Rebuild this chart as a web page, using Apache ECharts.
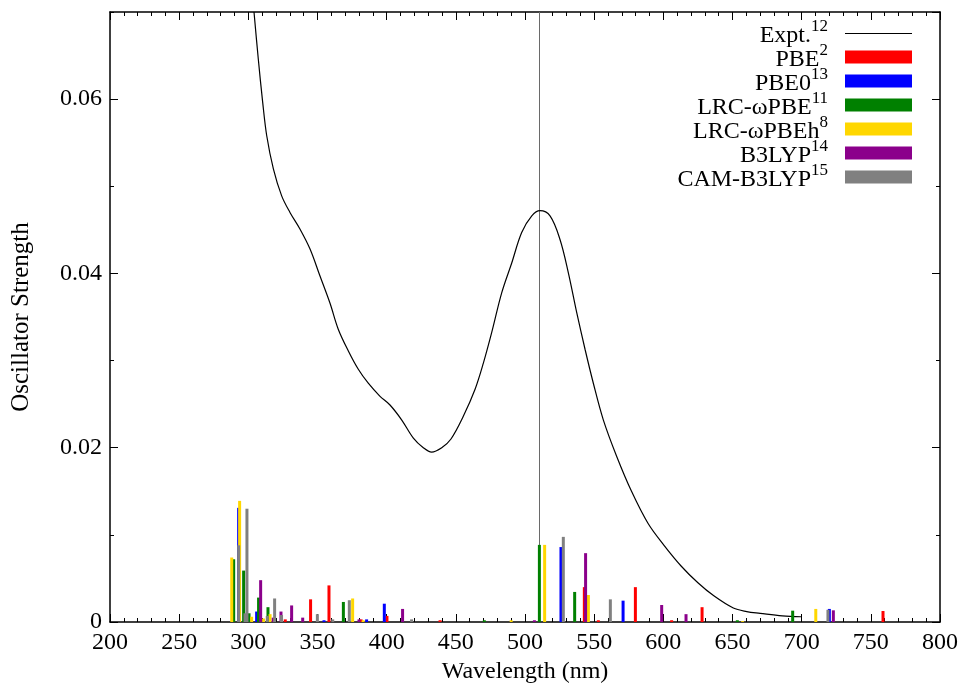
<!DOCTYPE html>
<html>
<head>
<meta charset="utf-8">
<script src="https://cdn.jsdelivr.net/npm/echarts@6/dist/echarts.min.js"></script>
<style>html,body{margin:0;padding:0;background:#fff}#c{width:959px;height:683px}</style>
</head>
<body>
<div id="c"></div>
<script>
// Experimental spectrum (wavelength nm, oscillator strength)
var exptWl = [304.1, 307.2, 310.4, 313.3, 318.1, 324.1, 330.1, 337.3, 344.6, 351.8, 359, 365, 372.3, 379.5, 386.7, 395.2, 402.4, 410.8, 419.3, 426.5, 432.5, 439.8, 446.5, 455.4, 463.9, 469.9, 475.9, 483.2, 490.4, 497.6, 504.9, 510.8, 518.1, 525.3, 531.3, 537.4, 543.4, 549.4, 556.6, 566.3, 577, 589, 600.5, 613, 625, 636.5, 650.6, 660.3, 670, 686, 699.5];
var exptF  = [0.0700, 0.0646, 0.0596, 0.0558, 0.0520, 0.0489, 0.0470, 0.0451, 0.0428, 0.0397, 0.0366, 0.0336, 0.0311, 0.0290, 0.0274, 0.0259, 0.0249, 0.0232, 0.0211, 0.0200, 0.0195, 0.0200, 0.0210, 0.0236, 0.0267, 0.0297, 0.0332, 0.0378, 0.0412, 0.0447, 0.0466, 0.0472, 0.0466, 0.0439, 0.0401, 0.0355, 0.0313, 0.0274, 0.0232, 0.0190, 0.0150, 0.0113, 0.0088, 0.0064, 0.0045, 0.0030, 0.0016, 0.0012, 0.0010, 0.0007, 0.0006];
var exptMarker = 510;

// Computed stick spectra: [wavelength nm, oscillator strength]
var pbe = [[326.7,0.0003],[345,0.0026],[358.3,0.0042],[381.5,0.0003],[400.2,0.0007],[438.6,0.0002],[542.9,0.0040],[553,0.0002],[579.8,0.0040],[606,0.0002],[628,0.0017],[758.8,0.00126]];
var pbe0 = [[293,0.0131],[306,0.0012],[354.7,0.0002],[385.5,0.0003],[398.3,0.0021],[526,0.0086],[570.9,0.00245],[720,0.0015]];
var lrcwpbe = [[289.4,0.0072],[296.6,0.0059],[300.5,0.0010],[307.4,0.0028],[314.2,0.0017],[368.7,0.0023],[470.6,0.0002],[510.4,0.00885],[535.9,0.00345],[653.5,0.0002],[693.5,0.0013]];
var lrcwpbeh = [[288,0.0074],[293.7,0.0139],[302.4,0.0006],[311,0.0004],[315.7,0.0009],[375.4,0.0027],[383,0.0002],[490,0.0002],[514.2,0.00885],[545.8,0.0031],[657.3,0.0001],[710.2,0.0015]];
var b3lyp = [[308.9,0.0048],[318,0.0005],[323.6,0.0012],[331.3,0.0019],[339.3,0.0005],[380,0.0003],[411.5,0.0015],[506.8,0.0002],[543.8,0.0079],[598.8,0.00195],[616.4,0.0009],[722.9,0.00134]];
var camb3lyp = [[293,0.0088],[297.6,0.0010],[299,0.0130],[313.7,0.0007],[319,0.0027],[324,0.0008],[349.9,0.0009],[361,0.0003],[373,0.0025],[418,0.0003],[527.7,0.00977],[561.7,0.0026],[719,0.0014]];

var methodNames = ['PBE','PBE0','LRC-\u03c9PBE','LRC-\u03c9PBEh','B3LYP','CAM-B3LYP'];
var methodRefs  = ['2','13','11','8','14','15'];
var methodColors = ['#ff0000','#0000ff','#008000','#ffd700','#8b008b','#808080'];
var methodData = [pbe, pbe0, lrcwpbe, lrcwpbeh, b3lyp, camb3lyp];
var exptName = 'Expt.', exptRef = '12';

var FONT = 'Liberation Serif';
var chart = echarts.init(document.getElementById('c'), null, {renderer:'canvas'});

var refMap = {}; refMap[exptName] = exptRef;
methodNames.forEach(function(n,i){ refMap[n] = methodRefs[i]; });

var series = [];
series.push({
  name: exptName, type: 'line', xAxisIndex: 0, yAxisIndex: 0,
  data: exptWl.map(function(w,i){ return [w, exptF[i]]; }),
  showSymbol: false, symbol: 'none', smooth: 0.35, clip: true,
  lineStyle: {color: '#000', width: 1.2}, itemStyle: {color: '#000'}, z: 2,
  markLine: {
    silent: true, symbol: ['none','none'], label: {show: false}, z: 1,
    lineStyle: {color: '#6a6a6a', width: 1, type: 'solid'},
    data: [{xAxis: exptMarker}]
  }
});
methodNames.forEach(function(n,i){
  series.push({
    name: n, type: 'bar', xAxisIndex: 0, yAxisIndex: 0,
    data: methodData[i], barWidth: 3, barGap: '-100%',
    itemStyle: {color: methodColors[i]},
    emphasis: {disabled: true}, z: 5
  });
});

function yAxisDef(pos, interval, len, labels){
  return {
    type: 'value', position: pos, min: 0, max: 0.07, interval: interval,
    axisLine: {show: labels, onZero: false, lineStyle: {color: '#000', width: 1.5}},
    axisTick: {show: true, inside: true, length: len, lineStyle: {color: '#000', width: 1}},
    splitLine: {show: false},
    axisLabel: {show: labels, showMaxLabel: false, margin: 8, color: '#000', fontFamily: FONT, fontSize: 24,
      formatter: function(v){ return v === 0 ? '0' : v.toFixed(2); }},
    name: labels && pos === 'left' ? 'Oscillator Strength' : '',
    nameLocation: 'middle', nameGap: 76, nameRotate: 90,
    nameTextStyle: {color: '#000', fontFamily: FONT, fontSize: 25}
  };
}
function xAxisDef(pos, labels){
  return {
    type: 'value', position: pos, min: 200, max: 800, interval: 50,
    axisLine: {show: true, onZero: false, lineStyle: {color: '#000', width: 1.5}},
    axisTick: {show: true, inside: true, length: 8, lineStyle: {color: '#000', width: 1}},
    minorTick: {show: true, splitNumber: 5, length: 4, lineStyle: {color: '#000', width: 1}},
    splitLine: {show: false}, minorSplitLine: {show: false},
    axisLabel: {show: labels, margin: 9, color: '#000', fontFamily: FONT, fontSize: 24},
    name: labels ? 'Wavelength (nm)' : '',
    nameLocation: 'middle', nameGap: 33,
    nameTextStyle: {color: '#000', fontFamily: FONT, fontSize: 24}
  };
}

var lineIcon = 'path://M0,0 M0,6.4 L67,6.4 L67,7.6 L0,7.6 Z M67,13';
var legendData = [{name: exptName, icon: lineIcon}].concat(methodNames.map(function(n){ return {name: n, icon: 'rect'}; }));

chart.setOption({
  animation: false,
  backgroundColor: '#fff',
  grid: {left: 110, right: 19, top: 12, bottom: 61, show: false, containLabel: false, outerBoundsMode: 'none'},
  xAxis: [xAxisDef('bottom', true), xAxisDef('top', false)],
  yAxis: [yAxisDef('left', 0.02, 8, true), yAxisDef('left', 0.01, 4, false),
          yAxisDef('right', 0.02, 8, true), yAxisDef('right', 0.01, 4, false)].map(function(a, i){
            if (i === 2) { a.axisLabel.show = false; a.name = ''; }
            return a;
          }),
  legend: {
    orient: 'vertical', right: 42, top: 13, align: 'right',
    itemWidth: 67, itemHeight: 13, itemGap: -6,
    selectedMode: false,
    data: legendData,
    formatter: function(n){ return '{b|' + n + '}{s|' + refMap[n] + '}'; },
    textStyle: {
      color: '#000', fontFamily: FONT, fontSize: 24, padding: [0, 12, 0, 0],
      rich: {
        b: {fontFamily: FONT, fontSize: 24, color: '#000', lineHeight: 30, verticalAlign: 'bottom'},
        s: {fontFamily: FONT, fontSize: 17, color: '#000', lineHeight: 16, verticalAlign: 'top'}
      }
    }
  },
  series: series
});
</script>
</body>
</html>
